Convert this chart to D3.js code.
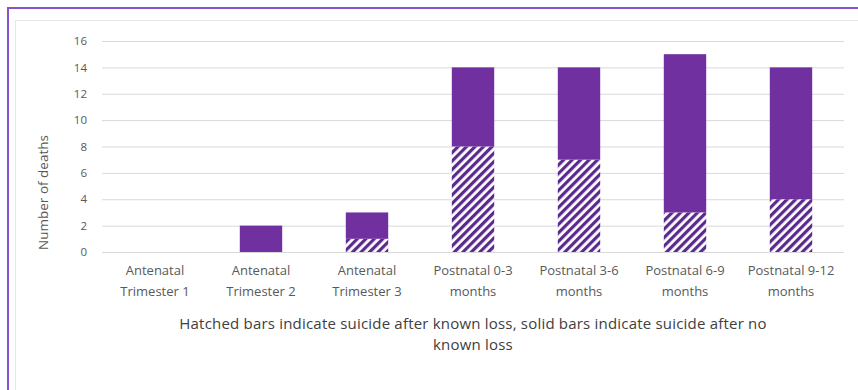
<!DOCTYPE html>
<html>
<head>
<meta charset="utf-8">
<script src="https://cdn.jsdelivr.net/npm/d3@7"></script>
<style>
  html, body { margin: 0; padding: 0; background: #fff; }
  svg { display: block; font-family: "Open Sans", Lato, sans-serif; }
</style>
</head>
<body>
<svg id="chart" width="858" height="390"></svg>
<script>
// Deaths by period, split into suicide after known loss (hatched) and with no known loss (solid)
const categories = [
  ["Antenatal", "Trimester 1"],
  ["Antenatal", "Trimester 2"],
  ["Antenatal", "Trimester 3"],
  ["Postnatal 0-3", "months"],
  ["Postnatal 3-6", "months"],
  ["Postnatal 6-9", "months"],
  ["Postnatal 9-12", "months"]
];
const knownLoss = [0, 0, 1, 8, 7, 3, 4];
const noKnownLoss = [0, 2, 2, 6, 7, 12, 10];
const yTicks = [0, 2, 4, 6, 8, 10, 12, 14, 16];
const yTitle = "Number of deaths";
const caption = [
  "Hatched bars indicate suicide after known loss, solid bars indicate suicide after no",
  "known loss"
];

const purple = "#7030a0";
const svg = d3.select("#chart");

// hatch pattern for the known-loss segments
const defs = svg.append("defs");
const pat = defs.append("pattern")
  .attr("id", "hatch")
  .attr("patternUnits", "userSpaceOnUse")
  .attr("width", 6).attr("height", 6)
  .attr("patternTransform", "rotate(45)");
pat.append("rect").attr("width", 6).attr("height", 6).attr("fill", "#fff");
pat.append("rect").attr("width", 3.2).attr("height", 6).attr("fill", "#5a2a8c");

// outer frame and inner panel
svg.append("path")
  .attr("d", "M8,390 L8,8 L858,8")
  .attr("fill", "none").attr("stroke", "#8a4fcf").attr("stroke-width", 2);
svg.append("rect")
  .attr("x", 15.5).attr("y", 20.5).attr("width", 850).attr("height", 380)
  .attr("fill", "none").attr("stroke", "#e6e6e6").attr("stroke-width", 1);

const margin = { left: 102, right: 14, top: 41, bottom: 138 };
const W = 858, H = 390;
const x = d3.scaleBand()
  .domain(d3.range(categories.length))
  .range([margin.left, W - margin.right])
  .paddingInner(0.6).paddingOuter(0.3);
const y = d3.scaleLinear().domain([0, 16]).range([H - margin.bottom, margin.top]);

// gridlines
const yAxis = d3.axisLeft(y).tickValues(yTicks).tickSize(-(W - margin.right - margin.left)).tickPadding(15);
const gy = svg.append("g").attr("transform", `translate(${margin.left},0)`).call(yAxis);
gy.select(".domain").remove();
gy.selectAll(".tick line").attr("stroke", "#d9d9d9").attr("stroke-width", 1);
gy.selectAll(".tick text").attr("fill", "#595959").attr("font-size", 11.5)
  .attr("font-family", "'Open Sans', sans-serif");

// stacked bars
const stack = categories.map((c, i) => ({ i, known: knownLoss[i], none: noKnownLoss[i] }));
svg.append("g").selectAll("rect.known").data(stack).join("rect")
  .attr("x", d => x(d.i)).attr("width", x.bandwidth())
  .attr("y", d => y(d.known)).attr("height", d => y(0) - y(d.known))
  .attr("fill", "url(#hatch)");
svg.append("g").selectAll("rect.none").data(stack).join("rect")
  .attr("x", d => x(d.i)).attr("width", x.bandwidth())
  .attr("y", d => y(d.known + d.none)).attr("height", d => y(d.known) - y(d.known + d.none))
  .attr("fill", purple);

// category labels
const xl = svg.append("g");
categories.forEach((lines, i) => {
  const t = xl.append("text")
    .attr("x", x(i) + x.bandwidth() / 2).attr("y", y(0) + 23)
    .attr("text-anchor", "middle").attr("fill", "#595959").attr("font-size", 13);
  lines.forEach((l, k) => t.append("tspan").attr("x", x(i) + x.bandwidth() / 2).attr("dy", k ? 21 : 0).text(l));
});

// axis title
svg.append("text")
  .attr("transform", `translate(48,${(y(0) + y(16)) / 2 + 46}) rotate(-90)`)
  .attr("text-anchor", "middle").attr("fill", "#595959").attr("font-size", 13.5)
  .text(yTitle);

// caption
const cap = svg.append("text").attr("text-anchor", "middle").attr("fill", "#404040")
  .attr("font-size", 15).attr("letter-spacing", 0.2);
caption.forEach((l, k) => cap.append("tspan").attr("x", 473).attr("y", 329 + k * 21).text(l));
</script>
</body>
</html>
